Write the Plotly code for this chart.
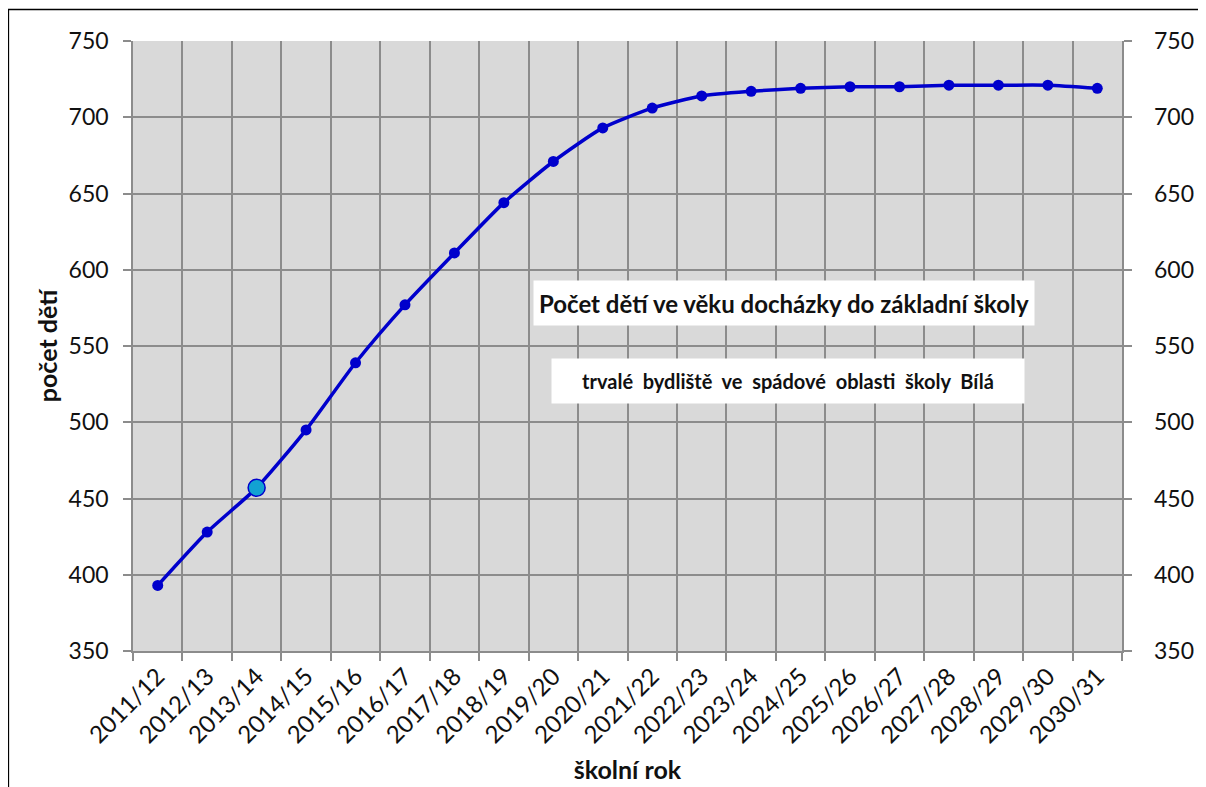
import plotly.graph_objects as go

years = ["2011/12", "2012/13", "2013/14", "2014/15", "2015/16", "2016/17", "2017/18",
         "2018/19", "2019/20", "2020/21", "2021/22", "2022/23", "2023/24", "2024/25",
         "2025/26", "2026/27", "2027/28", "2028/29", "2029/30", "2030/31"]
children = [393, 428, 457, 495, 539, 577, 611, 644, 671, 693, 706, 714, 717, 719,
            720, 720, 721, 721, 721, 719]
highlight_index = 2

title_text = "Počet dětí ve věku docházky do základní školy"
subtitle_text = "trvalé\u00a0 bydliště\u00a0 ve\u00a0 spádové\u00a0 oblasti\u00a0 školy\u00a0 Bílá"
y_title = "počet dětí"
x_title = "školní rok"

FONT = "Lato"
GRID = "#8c8c8c"
TXT = "#111111"

fig = go.Figure()
fig.add_trace(go.Scatter(
    x=years, y=children, mode="lines+markers",
    line=dict(color="#0000CC", width=3.5, shape="spline", smoothing=0.6),
    marker=dict(color="#0000CC", size=11),
    hoverinfo="x+y", showlegend=False,
))
fig.add_trace(go.Scatter(
    x=[years[highlight_index]], y=[children[highlight_index]], mode="markers",
    marker=dict(color="#12A2D2", size=17, line=dict(color="#0000CC", width=1.5)),
    showlegend=False, hoverinfo="x+y",
))
# invisible trace to activate right-hand axis
fig.add_trace(go.Scatter(
    x=years, y=children, yaxis="y2", mode="lines", line=dict(width=0),
    opacity=0, showlegend=False, hoverinfo="skip",
))

fig.update_layout(
    width=1198, height=779,
    margin=dict(l=125, r=84, t=33, b=135.5),
    paper_bgcolor="white", plot_bgcolor="#d9d9d9",
    font=dict(family=FONT, size=22, color=TXT),
    xaxis=dict(
        type="category", range=[-0.5, 19.5], tickson="boundaries", automargin=False,
        showgrid=True, gridcolor=GRID, gridwidth=1.5,
        ticks="outside", ticklen=8, tickcolor=GRID, tickwidth=1.5,
        tickangle=-45, tickfont=dict(family=FONT, size=24, color=TXT),
        showline=True, linecolor=GRID, linewidth=1.5,
        title=dict(text="<b>" + x_title + "</b>", font=dict(family=FONT, size=25, color=TXT), standoff=14),
        zeroline=False,
    ),
    yaxis=dict(
        range=[350, 750], dtick=50, showgrid=True, gridcolor=GRID, gridwidth=1.5, automargin=False,
        ticks="outside", ticklen=8, tickcolor=GRID, tickwidth=1.5,
        tickfont=dict(family=FONT, size=23, color=TXT), ticklabelstandoff=10,
        showline=True, linecolor=GRID, linewidth=1.5, zeroline=False,
        title=dict(text="<b>" + y_title + "</b>", font=dict(family=FONT, size=25, color=TXT), standoff=4),
    ),
    yaxis2=dict(
        range=[350, 750], dtick=50, overlaying="y", side="right", showgrid=False, automargin=False,
        ticks="outside", ticklen=8, tickcolor=GRID, tickwidth=1.5,
        tickprefix="\u00a0\u00a0\u00a0",
        tickfont=dict(family=FONT, size=23, color=TXT),
        showline=True, linecolor=GRID, linewidth=1.5, zeroline=False,
    ),
    annotations=[
        dict(text="<b>" + title_text + "</b>", xref="paper", yref="paper",
             x=0.658, y=0.570, showarrow=False, bgcolor="white",
             width=498, height=42, font=dict(family=FONT, size=24, color=TXT)),
        dict(text="<b>" + subtitle_text + "</b>", xref="paper", yref="paper",
             x=0.662, y=0.4434, showarrow=False, bgcolor="white",
             width=470, height=42, font=dict(family=FONT, size=20, color=TXT)),
    ],
    shapes=[
        dict(type="rect", xref="paper", yref="paper", x0=-0.126, x1=1.3, y0=-0.6, y1=1.0516,
             line=dict(color="black", width=1.5), layer="below"),
    ],
)

fig.write_html("out.html")
